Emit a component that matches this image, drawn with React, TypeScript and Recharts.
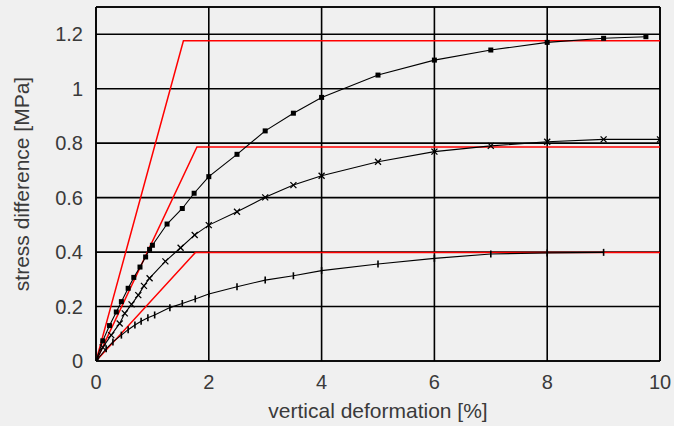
import React from "react";
import { LineChart, Line, XAxis, YAxis, CartesianGrid, ReferenceLine, Label } from "recharts";

// Measured stress–strain curves (vertical deformation in %, stress difference in MPa)
const highX = [0, 0.12, 0.24, 0.36, 0.45, 0.57, 0.67, 0.78, 0.88, 0.95, 1.0, 1.26, 1.53, 1.74, 2.0, 2.5, 3.0, 3.5, 4.0, 5.0, 6.0, 7.0, 8.0, 9.0, 9.75];
const highY = [0, 0.074, 0.13, 0.18, 0.218, 0.267, 0.307, 0.345, 0.382, 0.41, 0.425, 0.503, 0.56, 0.616, 0.677, 0.759, 0.845, 0.91, 0.968, 1.05, 1.105, 1.142, 1.17, 1.185, 1.191];

const midX = [0, 0.12, 0.27, 0.42, 0.51, 0.63, 0.75, 0.85, 0.95, 1.23, 1.5, 1.75, 2.0, 2.5, 3.0, 3.5, 4.0, 5.0, 6.0, 7.0, 8.0, 9.0, 10.0];
const midY = [0, 0.05, 0.095, 0.138, 0.175, 0.208, 0.242, 0.276, 0.304, 0.366, 0.416, 0.463, 0.499, 0.548, 0.601, 0.646, 0.68, 0.732, 0.769, 0.79, 0.805, 0.814, 0.814];

const lowX = [0, 0.18, 0.3, 0.45, 0.57, 0.69, 0.8, 0.92, 1.04, 1.31, 1.53, 1.76, 2.0, 2.5, 3.0, 3.5, 4.0, 5.0, 6.0, 7.0, 8.0, 9.0];
const lowY = [0, 0.045, 0.07, 0.095, 0.115, 0.132, 0.146, 0.159, 0.169, 0.196, 0.211, 0.228, 0.246, 0.273, 0.297, 0.313, 0.332, 0.356, 0.377, 0.393, 0.397, 0.399];

// Bilinear (elastic–perfectly plastic) approximations
const fitHighX = [0, 1.55, 10];
const fitHighY = [0, 1.176, 1.176];
const fitMidX = [0, 1.79, 10];
const fitMidY = [0, 0.786, 0.786];
const fitLowX = [0, 1.76, 10];
const fitLowY = [0, 0.398, 0.398];

const xTicks = [0, 2, 4, 6, 8, 10];
const yTicks = [0, 0.2, 0.4, 0.6, 0.8, 1, 1.2];

const toRows = (xs: number[], ys: number[]) => xs.map((x, i) => ({ x, y: ys[i] }));

const FONT = "'Liberation Sans', Arial, Helvetica, sans-serif";
const TEXT = "#3a3a3a";

const SquareDot = (props: any) => {
  const { cx, cy } = props;
  if (cx == null || cy == null) return null;
  return <rect x={cx - 2.5} y={cy - 2.5} width={5} height={5} fill="#000" />;
};

const CrossDot = (props: any) => {
  const { cx, cy } = props;
  if (cx == null || cy == null) return null;
  return (
    <g stroke="#000" strokeWidth={1.3}>
      <line x1={cx - 3} y1={cy - 3} x2={cx + 3} y2={cy + 3} />
      <line x1={cx - 3} y1={cy + 3} x2={cx + 3} y2={cy - 3} />
    </g>
  );
};

const TickDot = (props: any) => {
  const { cx, cy } = props;
  if (cx == null || cy == null) return null;
  return <line x1={cx} y1={cy - 3.5} x2={cx} y2={cy + 3.5} stroke="#000" strokeWidth={1.6} />;
};

const fmtY = (v: number) => (v === 0 ? "0" : v === 1 ? "1" : String(v));

export default function App() {
  return (
    <div style={{ position: "fixed", left: 0, top: 0, width: 674, height: 426, background: "#f0f0f0" }}>
      <LineChart width={674} height={426} margin={{ top: 7, right: 14, bottom: 0, left: 0 }}>
        <CartesianGrid stroke="#000" strokeWidth={1.6} verticalPoints={undefined} />
        <XAxis
          type="number"
          dataKey="x"
          domain={[0, 10]}
          ticks={xTicks}
          height={65}
          tickSize={0}
          tickMargin={14}
          axisLine={{ stroke: "#000", strokeWidth: 1.6 }}
          tick={{ fill: TEXT, fontSize: 20, fontFamily: FONT }}
          allowDataOverflow
        >
          <Label
            content={(p: any) => {
              const vb = p.viewBox;
              return (
                <text x={vb.x + vb.width / 2} y={418} textAnchor="middle" fill={TEXT} fontSize={21} fontFamily={FONT}>
                  vertical deformation [%]
                </text>
              );
            }}
          />
        </XAxis>
        <YAxis
          type="number"
          domain={[0, 1.3]}
          ticks={yTicks}
          width={96}
          tickSize={0}
          tickMargin={13}
          tickFormatter={fmtY}
          axisLine={{ stroke: "#000", strokeWidth: 1.6 }}
          tick={{ fill: TEXT, fontSize: 20, fontFamily: FONT }}
          allowDataOverflow
        >
          <Label
            content={(p: any) => {
              const vb = p.viewBox;
              const cy = vb.y + vb.height / 2;
              return (
                <text x={29} y={cy} transform={`rotate(-90, 29, ${cy})`} textAnchor="middle" fill={TEXT} fontSize={21} fontFamily={FONT}>
                  stress difference [MPa]
                </text>
              );
            }}
          />
        </YAxis>
        <ReferenceLine y={1.3} stroke="#000" strokeWidth={1.6} />
        <ReferenceLine x={10} stroke="#000" strokeWidth={1.6} />

        <Line data={toRows(fitHighX, fitHighY)} dataKey="y" type="linear" stroke="#ff0000" strokeWidth={1.5} dot={false} isAnimationActive={false} />
        <Line data={toRows(fitMidX, fitMidY)} dataKey="y" type="linear" stroke="#ff0000" strokeWidth={1.5} dot={false} isAnimationActive={false} />
        <Line data={toRows(fitLowX, fitLowY)} dataKey="y" type="linear" stroke="#ff0000" strokeWidth={1.5} dot={false} isAnimationActive={false} />

        <Line data={toRows(highX, highY)} dataKey="y" type="linear" stroke="#000" strokeWidth={1.1} dot={<SquareDot />} isAnimationActive={false} />
        <Line data={toRows(midX, midY)} dataKey="y" type="linear" stroke="#000" strokeWidth={1.1} dot={<CrossDot />} isAnimationActive={false} />
        <Line data={toRows(lowX, lowY)} dataKey="y" type="linear" stroke="#000" strokeWidth={1.1} dot={<TickDot />} isAnimationActive={false} />
      </LineChart>
    </div>
  );
}
